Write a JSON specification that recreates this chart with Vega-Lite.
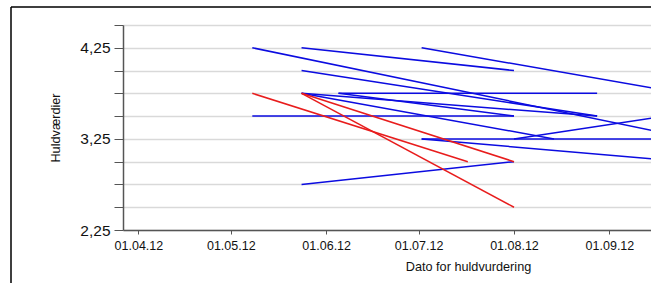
{
  "$schema": "https://vega.github.io/schema/vega-lite/v6.json",
  "autosize": "none",
  "width": 640,
  "height": 276,
  "padding": {"left": 11, "top": 7, "right": 0, "bottom": 0},
  "background": "white",
  "config": {
    "view": {"stroke": "#000000", "strokeWidth": 1.5, "fill": "white", "strokeDash": [640, 916, 276, 0]},
    "font": "Liberation Sans"
  },
  "data": {
    "values": [
      {"id": "B1", "farve": "blå", "dato": "2012-05-08", "huld": 4.25},
      {"id": "B1", "farve": "blå", "dato": "2012-09-28", "huld": 3.25},
      {"id": "B2", "farve": "blå", "dato": "2012-05-24", "huld": 4.25},
      {"id": "B2", "farve": "blå", "dato": "2012-08-01", "huld": 4.0},
      {"id": "B3", "farve": "blå", "dato": "2012-07-02", "huld": 4.25},
      {"id": "B3", "farve": "blå", "dato": "2012-09-25", "huld": 3.75},
      {"id": "B4", "farve": "blå", "dato": "2012-05-24", "huld": 4.0},
      {"id": "B4", "farve": "blå", "dato": "2012-08-28", "huld": 3.5},
      {"id": "B5", "farve": "blå", "dato": "2012-06-05", "huld": 3.75},
      {"id": "B5", "farve": "blå", "dato": "2012-08-28", "huld": 3.75},
      {"id": "B6", "farve": "blå", "dato": "2012-05-08", "huld": 3.5},
      {"id": "B6", "farve": "blå", "dato": "2012-08-01", "huld": 3.5},
      {"id": "B7", "farve": "blå", "dato": "2012-07-02", "huld": 3.25},
      {"id": "B7", "farve": "blå", "dato": "2012-09-30", "huld": 3.25},
      {"id": "B8", "farve": "blå", "dato": "2012-07-02", "huld": 3.25},
      {"id": "B8", "farve": "blå", "dato": "2012-09-25", "huld": 3.0},
      {"id": "B9", "farve": "blå", "dato": "2012-05-24", "huld": 2.75},
      {"id": "B9", "farve": "blå", "dato": "2012-08-01", "huld": 3.0},
      {"id": "B10", "farve": "blå", "dato": "2012-05-24", "huld": 3.75},
      {"id": "B10", "farve": "blå", "dato": "2012-08-28", "huld": 3.5},
      {"id": "B11", "farve": "blå", "dato": "2012-05-24", "huld": 3.75},
      {"id": "B11", "farve": "blå", "dato": "2012-08-14", "huld": 3.25},
      {"id": "B12", "farve": "blå", "dato": "2012-08-01", "huld": 3.25},
      {"id": "B12", "farve": "blå", "dato": "2012-09-19", "huld": 3.5},
      {"id": "B13", "farve": "blå", "dato": "2012-06-05", "huld": 3.75},
      {"id": "B13", "farve": "blå", "dato": "2012-08-01", "huld": 3.5},
      {"id": "R1", "farve": "rød", "dato": "2012-05-08", "huld": 3.75},
      {"id": "R1", "farve": "rød", "dato": "2012-07-17", "huld": 3.0},
      {"id": "R2", "farve": "rød", "dato": "2012-05-24", "huld": 3.75},
      {"id": "R2", "farve": "rød", "dato": "2012-08-01", "huld": 3.0},
      {"id": "R3", "farve": "rød", "dato": "2012-05-24", "huld": 3.75},
      {"id": "R3", "farve": "rød", "dato": "2012-08-01", "huld": 2.5}
    ]
  },
  "mark": {"type": "line", "strokeWidth": 1.5, "clip": true},
  "encoding": {
    "x": {
      "field": "dato",
      "type": "temporal",
      "scale": {
        "type": "utc",
        "domain": [
          {"year": 2012, "month": 3, "date": 27, "utc": true},
          {"year": 2012, "month": 9, "date": 14, "hours": 12, "utc": true}
        ],
        "range": [112, 640]
      },
      "axis": {
        "title": "Dato for huldvurdering",
        "titleX": 457,
        "titlePadding": 9,
        "titleFontSize": 12.7,
        "titleFontWeight": "normal",
        "titleColor": "#111111",
        "offset": -53,
        "values": [
          {"year": 2012, "month": 4, "date": 1, "utc": true},
          {"year": 2012, "month": 5, "date": 1, "utc": true},
          {"year": 2012, "month": 6, "date": 1, "utc": true},
          {"year": 2012, "month": 7, "date": 1, "utc": true},
          {"year": 2012, "month": 8, "date": 1, "utc": true},
          {"year": 2012, "month": 9, "date": 1, "utc": true}
        ],
        "format": "%d.%m.%y",
        "labelFontSize": 12.5,
        "labelColor": "#111111",
        "labelPadding": 5,
        "labelAngle": 0,
        "labelFlush": false,
        "labelOverlap": false,
        "tickSize": 4,
        "tickColor": "#555555",
        "domainColor": "#555555",
        "domainWidth": 1.5,
        "grid": false
      }
    },
    "y": {
      "field": "huld",
      "type": "quantitative",
      "scale": {"domain": [2.25, 4.5], "range": [223, 18], "zero": false, "nice": false},
      "axis": {
        "title": "Huldværdier",
        "titleFontSize": 12.7,
        "titleFontWeight": "normal",
        "titleColor": "#111111",
        "titlePadding": 17,
        "offset": -112,
        "values": [2.25, 2.5, 2.75, 3.0, 3.25, 3.5, 3.75, 4.0, 4.25, 4.5],
        "labelExpr": "datum.value == 4.25 ? '4,25' : datum.value == 3.25 ? '3,25' : datum.value == 2.25 ? '2,25' : ''",
        "labelFontSize": 15.5,
        "labelColor": "#111111",
        "labelPadding": 4,
        "labelOverlap": false,
        "labelFlush": false,
        "tickSize": 9,
        "tickColor": "#555555",
        "domainColor": "#555555",
        "domainWidth": 1.5,
        "grid": true,
        "gridColor": "#d9d9d9",
        "gridWidth": 1.5
      }
    },
    "color": {
      "field": "farve",
      "type": "nominal",
      "scale": {"domain": ["blå", "rød"], "range": ["#0b0be0", "#e81c1c"]},
      "legend": null
    },
    "detail": {"field": "id"}
  }
}
